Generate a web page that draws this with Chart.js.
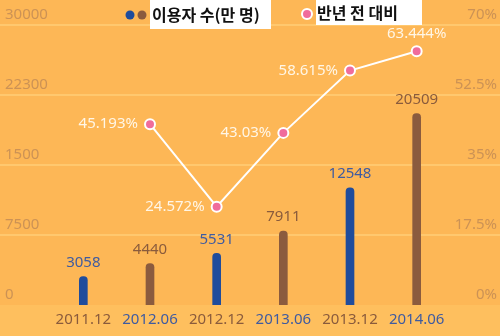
<!DOCTYPE html>
<html><head><meta charset="utf-8">
<script src="https://cdn.jsdelivr.net/npm/chart.js@4"></script>
<style>html,body{margin:0;padding:0;background:#FDB756;}#wrap{width:500px;height:336px;position:relative;}</style>
</head><body><div id="wrap"><canvas id="c" width="500" height="336"></canvas></div>
<script>
const categories = ['2011.12','2012.06','2012.12','2013.06','2013.12','2014.06'];
const users = [3058, 4440, 5531, 7911, 12548, 20509];
const growth = [null, 45.193, 24.572, 43.03, 58.615, 63.444];
const leftTickLabels = ['0','7500','1500','22300','30000'];
const rightTickLabels = ['0%','17.5%','35%','52.5%','70%'];
const seriesNames = ['이용자 수(만 명)', '반년 전 대비'];

const BLUE = '#1F4C9C', BROWN = '#8B5B3E';
const BLUE_T = '#3F5BA0', BROWN_T = '#8A5B3C';
const TICK = 'rgba(195,140,85,0.85)';
const PINK = '#F06C9B';
const NUMFONT = '"Noto Sans", "Open Sans", sans-serif';
const growthLabelPos = ['none','left','left','left','left','top'];

const bgPlugin = {
  id: 'bg',
  beforeDraw(chart) {
    const {ctx, chartArea, width, height} = chart;
    const y = chart.scales.y;
    ctx.save();
    ctx.fillStyle = '#FDB756';
    ctx.fillRect(0, 0, width, height);
    ctx.fillStyle = '#FEBF5E';
    ctx.fillRect(0, chartArea.bottom, width, height - chartArea.bottom);
    ctx.strokeStyle = '#FFC86E';
    ctx.lineWidth = 2;
    y.ticks.forEach(t => {
      if (t.value === 0) return;
      const py = Math.round(y.getPixelForValue(t.value));
      ctx.beginPath(); ctx.moveTo(0, py); ctx.lineTo(width, py); ctx.stroke();
    });
    ctx.restore();
  }
};

const labelPlugin = {
  id: 'labels',
  afterDatasetsDraw(chart) {
    const ctx = chart.ctx;
    ctx.save();
    ctx.font = '15px ' + NUMFONT;
    const barMeta = chart.getDatasetMeta(0);
    barMeta.data.forEach((el, i) => {
      ctx.fillStyle = i % 2 === 0 ? BLUE_T : BROWN_T;
      ctx.textAlign = 'center'; ctx.textBaseline = 'middle';
      ctx.fillText(String(users[i]), el.x, el.y - 14);
    });
    const lineMeta = chart.getDatasetMeta(1);
    lineMeta.data.forEach((el, i) => {
      if (growth[i] == null) return;
      const txt = growth[i] + '%';
      ctx.fillStyle = '#FFF6E6';
      ctx.textBaseline = 'middle';
      if (growthLabelPos[i] === 'top') {
        ctx.textAlign = 'center';
        ctx.fillText(txt, el.x, el.y - 17);
      } else {
        ctx.textAlign = 'right';
        ctx.fillText(txt, el.x - 12, el.y);
      }
    });
    ctx.restore();
  }
};

const legendPlugin = {
  id: 'customLegend',
  afterDraw(chart) {
    const ctx = chart.ctx;
    ctx.save();
    ctx.fillStyle = '#FFFFFF';
    ctx.fillRect(150, 0, 121, 29);
    ctx.fillRect(316, 0, 106, 25);
    ctx.fillStyle = BLUE;
    ctx.beginPath(); ctx.arc(130, 15, 4.5, 0, Math.PI * 2); ctx.fill();
    ctx.fillStyle = BROWN;
    ctx.beginPath(); ctx.arc(142, 15, 4.5, 0, Math.PI * 2); ctx.fill();
    ctx.fillStyle = PINK; ctx.strokeStyle = '#FFFFFF'; ctx.lineWidth = 2;
    ctx.beginPath(); ctx.arc(307, 14, 5, 0, Math.PI * 2); ctx.fill(); ctx.stroke();
    ctx.fillStyle = '#111111';
    ctx.font = 'bold 16px "Noto Sans CJK KR", sans-serif';
    ctx.textAlign = 'left'; ctx.textBaseline = 'middle';
    ctx.fillText(seriesNames[0], 152, 15);
    ctx.fillText(seriesNames[1], 317, 13);
    ctx.restore();
  }
};

new Chart(document.getElementById('c'), {
  data: {
    labels: categories,
    datasets: [
      {
        type: 'bar', label: seriesNames[0], data: users, yAxisID: 'y',
        backgroundColor: users.map((v, i) => i % 2 === 0 ? BLUE : BROWN),
        barThickness: 8, borderRadius: {topLeft: 4, topRight: 4}, borderSkipped: 'bottom', order: 1
      },
      {
        type: 'line', label: seriesNames[1], data: growth, yAxisID: 'y1',
        borderColor: '#FFFFFF', borderWidth: 2, tension: 0,
        pointRadius: 5, pointBackgroundColor: PINK, pointBorderColor: '#FFFFFF', pointBorderWidth: 2,
        order: 0
      }
    ]
  },
  options: {
    responsive: false, animation: false, devicePixelRatio: 1,
    layout: {padding: {left: 5, right: 3, top: 25, bottom: 0}},
    plugins: {legend: {display: false}, tooltip: {enabled: false}},
    scales: {
      x: {
        grid: {display: false}, border: {display: false},
        afterFit(s) { s.height = 31; },
        ticks: {
          font: {size: 15, family: NUMFONT}, padding: -2,
          color: ctx => ctx.index % 2 === 0 ? BROWN_T : BLUE_T
        }
      },
      y: {
        position: 'left', min: 0, max: 30000,
        grid: {display: false}, border: {display: false},
        afterFit(s) { s.width = 45; },
        ticks: {
          stepSize: 7500, crossAlign: 'far', labelOffset: -10, padding: 0,
          font: {size: 15, family: NUMFONT}, color: TICK,
          callback: (v, i) => leftTickLabels[i]
        }
      },
      y1: {
        position: 'right', min: 0, max: 70,
        grid: {display: false}, border: {display: false},
        afterFit(s) { s.width = 47; },
        ticks: {
          stepSize: 17.5, crossAlign: 'far', labelOffset: -10, padding: 0,
          font: {size: 15, family: NUMFONT}, color: TICK,
          callback: (v, i) => rightTickLabels[i]
        }
      }
    }
  },
  plugins: [bgPlugin, labelPlugin, legendPlugin]
});
</script></body></html>
